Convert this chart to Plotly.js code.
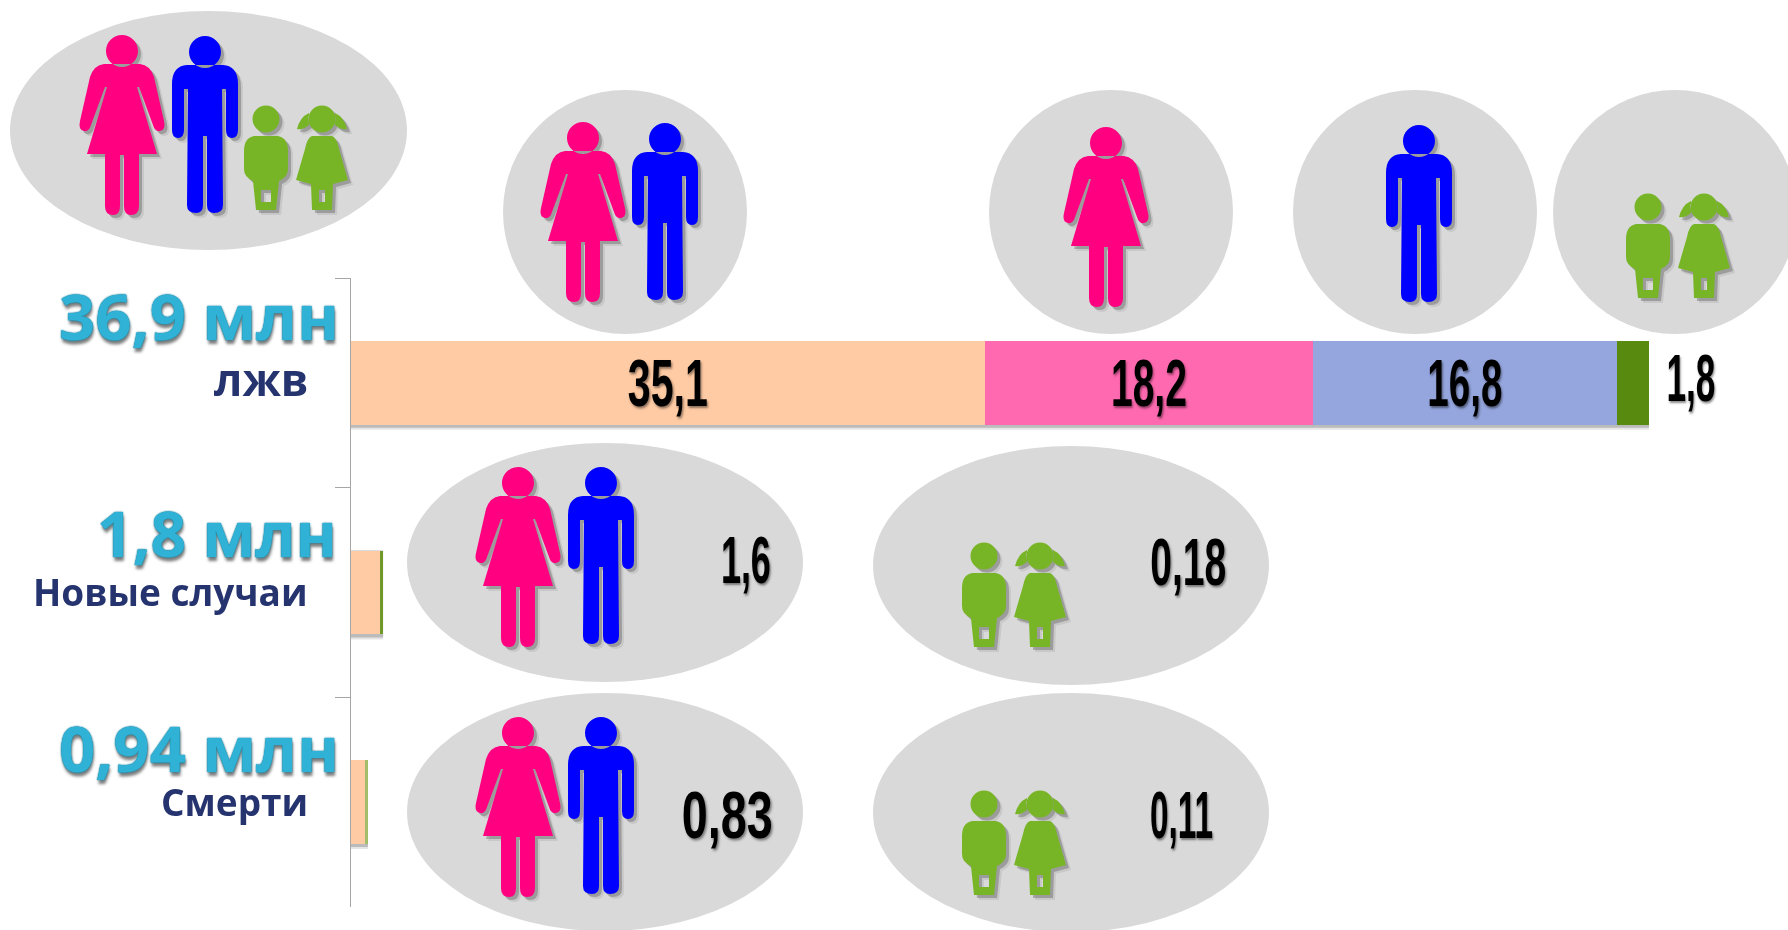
<!DOCTYPE html>
<html><head><meta charset="utf-8">
<script src="https://cdn.plot.ly/plotly-3.0.1.min.js"></script>
<style>html,body{margin:0;padding:0;background:#fff;overflow:hidden}#chart{width:1788px;height:930px;filter:blur(0.6px)}</style>
</head><body><div id="chart"></div>
<script>
// ---- data ----
const categories = ['лжв', 'Новые случаи', 'Смерти'];
const totals = ['36,9 млн', '1,8 млн', '0,94 млн'];
const adults = [35.1, 1.6, 0.83];
const women = [18.2, 0, 0];
const men = [16.8, 0, 0];
const children = [1.8, 0.18, 0.11];
const colors = {adults:'#FFCBA4', women:'#FF69B0', men:'#95A6DE', children:['#588A10','#6F9A2A','#A3BE6A']};

const W = 1788, H = 930, L = 351, T = 278, PW = 1437, PH = 629, XMAX = 79.6;
const px = x => (x - L) / PW, py = y => 1 - (y - T) / PH;
const fmt = v => String(v).replace('.', ',');
const rows = categories.map((_, i) => i);

// ---- pictogram outlines, local px relative to the head centre ----
const PINK = '#FF0080', BLUE = '#0000FF', GREEN = '#78B526', DISC = '#D9D9D9';
const head = r => { const k = r * 0.5523;
  return `M 0 ${-r} C ${k} ${-r} ${r} ${-k} ${r} 0 C ${r} ${k} ${k} ${r} 0 ${r} C ${-k} ${r} ${-r} ${k} ${-r} 0 C ${-r} ${-k} ${-k} ${-r} 0 ${-r} Z`; };
const glyphs = {
  woman: {color: PINK, d: head(16) + ' M -18 13 L 18 13 Q 28 14 32 26 L 42 70 Q 44 79 38 80 Q 33 81 31 74 L 17 36 L 15 36 L 35 103 L 17 103 L 17 155 Q 17 164 9 164 Q 2 164 2 155 L 2 104 L -2 104 L -2 155 Q -2 164 -9 164 Q -17 164 -17 155 L -17 103 L -35 103 L -15 36 L -17 36 L -31 74 Q -33 81 -38 80 Q -44 79 -42 70 L -32 26 Q -28 14 -18 13 Z'},
  man: {color: BLUE, d: head(16) + ' M -18 13 L 18 13 Q 33 14 33 32 L 33 78 Q 33 86 27 86 Q 21 86 21 78 L 21 37 L 17 37 L 18 153 Q 18 161 9 161 Q 2 161 2 153 L 2 84 L -2 84 L -2 153 Q -2 161 -9 161 Q -18 161 -18 153 L -17 37 L -21 37 L -21 78 Q -21 86 -27 86 Q -33 86 -33 78 L -33 32 Q -33 14 -18 13 Z'},
  boy: {color: GREEN, d: head(13.5) + ' M -12 17 L 12 17 Q 22 19 22 32 L 22 50 Q 22 58 13 62 L 10 91 L -10 91 L -13 62 Q -22 58 -22 50 L -22 32 Q -22 19 -12 17 Z M -5 71 L 5 71 L 5 83 L -5 83 Z'},
  girl: {color: GREEN, d: head(13.5) + ' M -10 17 L 10 17 Q 15 19 17 30 L 26 61 L 11 65 L 10 91 L -10 91 L -11 65 L -26 61 L -17 30 Q -15 19 -10 17 Z M -3 71 L 3 71 L 3 83 L -3 83 Z M 13 -6 Q 22 -2 25 10 Q 19 11 13 6 Z M -13 -6 Q -22 -2 -25 10 Q -19 11 -13 6 Z'}
};
const discs = [[10,11,407,250],[503,90,747,334],[989,90,1233,334],[1293,90,1537,334],[1553,90,1797,334],
               [407,443,803,682],[873,446,1269,685],[407,693,803,931],[873,693,1269,932]];
const figures = [['woman',122,51],['man',205,52],['boy',266,119],['girl',322,119],
  ['woman',583,138],['man',665,139],['woman',1106,143],['man',1419,141],['boy',1648,207],['girl',1704,207],
  ['woman',518,483],['man',601,483],['boy',984,556],['girl',1040,556],
  ['woman',518,733],['man',601,733],['boy',984,804],['girl',1040,804]];

const place = (d, ox, oy) => { let isX = true;
  return d.replace(/-?\d+(\.\d+)?(e-?\d+)?/g, n => { const v = parseFloat(n);
    const out = isX ? px(ox + v) : py(oy + v); isX = !isX; return out.toFixed(5); }); };

const shapes = [];
// soft shadow under the bars
rows.forEach(i => { const end = adults[i] + women[i] + men[i] + children[i];
  [[5,'rgba(0,0,0,0.10)'],[3,'rgba(0,0,0,0.18)']].forEach(([o,c]) => shapes.push({type:'rect', xref:'x', yref:'y', layer:'below',
    x0:0, x1:end, y0:i-0.2, y1:i+0.2+o/210, line:{width:0}, fillcolor:c})); });
discs.forEach(([a,b,c,d]) => shapes.push({type:'circle', xref:'paper', yref:'paper', x0:px(a), x1:px(c), y0:py(b), y1:py(d), fillcolor:DISC, line:{width:0}}));
figures.forEach(([g,x,y]) => {
  [[5,'rgba(0,0,0,0.08)'],[3,'rgba(0,0,0,0.22)']].forEach(([o,c]) => shapes.push({type:'path', xref:'paper', yref:'paper', fillrule:'evenodd', path:place(glyphs[g].d, x+o, y+o), fillcolor:c, line:{width:0}}));
  shapes.push({type:'path', xref:'paper', yref:'paper', fillrule:'evenodd', path:place(glyphs[g].d, x, y), fillcolor:glyphs[g].color, line:{width:0}});
});

// ---- bars ----
const numFont = {family:'"Liberation Sans",sans-serif', size:66, weight:700, color:'#000', shadow:'2px 2px 3px rgba(0,0,0,0.45)'};
const bar = (name, vals, color, labelled) => ({type:'bar', orientation:'h', name, y:rows, x:vals, customdata:categories,
  marker:{color, line:{width:0}}, text: labelled ? vals.map((v,i)=> i===0 ? fmt(v) : '') : undefined,
  textposition: labelled ? 'inside' : 'none', insidetextanchor:'middle', constraintext:'none', textangle:0,
  textfont:numFont, cliponaxis:false, hovertemplate:'%{customdata}: %{x}<extra>'+name+'</extra>'});
const data = [
  bar('Взрослые', adults, colors.adults, true),
  bar('Женщины', women, colors.women, true),
  bar('Мужчины', men, colors.men, true),
  bar('Дети', children, colors.children, false)
];

// ---- text ----
const annotations = [];
const totY = [315, 532, 747], subY = [379, 591, 801], subSize = [44, 37, 37];
rows.forEach(i => {
  annotations.push({xref:'paper', yref:'paper', x:px(340), y:py(totY[i]), xanchor:'right', yanchor:'middle', showarrow:false, text:totals[i],
    font:{family:'"Open Sans",sans-serif', size:63, weight:700, color:'#2FB2D6', shadow:'0 0 1px #17809F, 0 0 2px #17809F, 1px 4px 3px rgba(0,0,0,0.5)'}});
  annotations.push({xref:'paper', yref:'paper', x:px(310), y:py(subY[i]), xanchor:'right', yanchor:'middle', showarrow:false, text:categories[i],
    font:{family:'"Open Sans",sans-serif', size:subSize[i], weight:700, color:'#25346F'}});
});
const numbers = [[children[0],1691,378],[adults[1],746,560],[children[1],1188,562],[adults[2],727,815],[children[2],1181,815]];
numbers.forEach(([v,x,y]) => annotations.push({xref:'paper', yref:'paper', x:px(x), y:py(y), xanchor:'center', yanchor:'middle', showarrow:false, text:fmt(v), font:numFont}));

const layout = {
  width:W, height:H, margin:{l:L, t:T, r:W-L-PW, b:H-T-PH, pad:0},
  paper_bgcolor:'#fff', plot_bgcolor:'rgba(0,0,0,0)', showlegend:false, barmode:'stack', bargap:0.6,
  xaxis:{range:[0,XMAX], visible:false, fixedrange:true},
  yaxis:{range:[rows.length-0.5,-0.5], tickmode:'array', tickvals:rows.map(i=>i-0.5), ticktext:rows.map(()=>''), showticklabels:false,
    ticks:'outside', ticklen:15, tickcolor:'#A6A6A6', tickwidth:1, showline:true, linecolor:'#A6A6A6', linewidth:1, showgrid:false, zeroline:false, fixedrange:true},
  shapes, annotations
};
// the numerals are set in a very condensed face in the reference: fit each label to its drawn width
const drawnWidth = {'35,1':80,'18,2':76,'16,8':75,'1,8':49,'1,6':50,'0,18':76,'0,83':91,'0,11':63,'36,9 млн':280,'1,8 млн':240,'0,94 млн':280};
Plotly.newPlot('chart', data, layout, {displayModeBar:false, responsive:false}).then(gd => {
  gd.querySelectorAll('text.bartext, text.annotation-text').forEach(t => {
    const w = drawnWidth[t.textContent.trim()];
    if (w) { t.setAttribute('textLength', w); t.setAttribute('lengthAdjust', 'spacingAndGlyphs'); }
  });
});
</script></body></html>
